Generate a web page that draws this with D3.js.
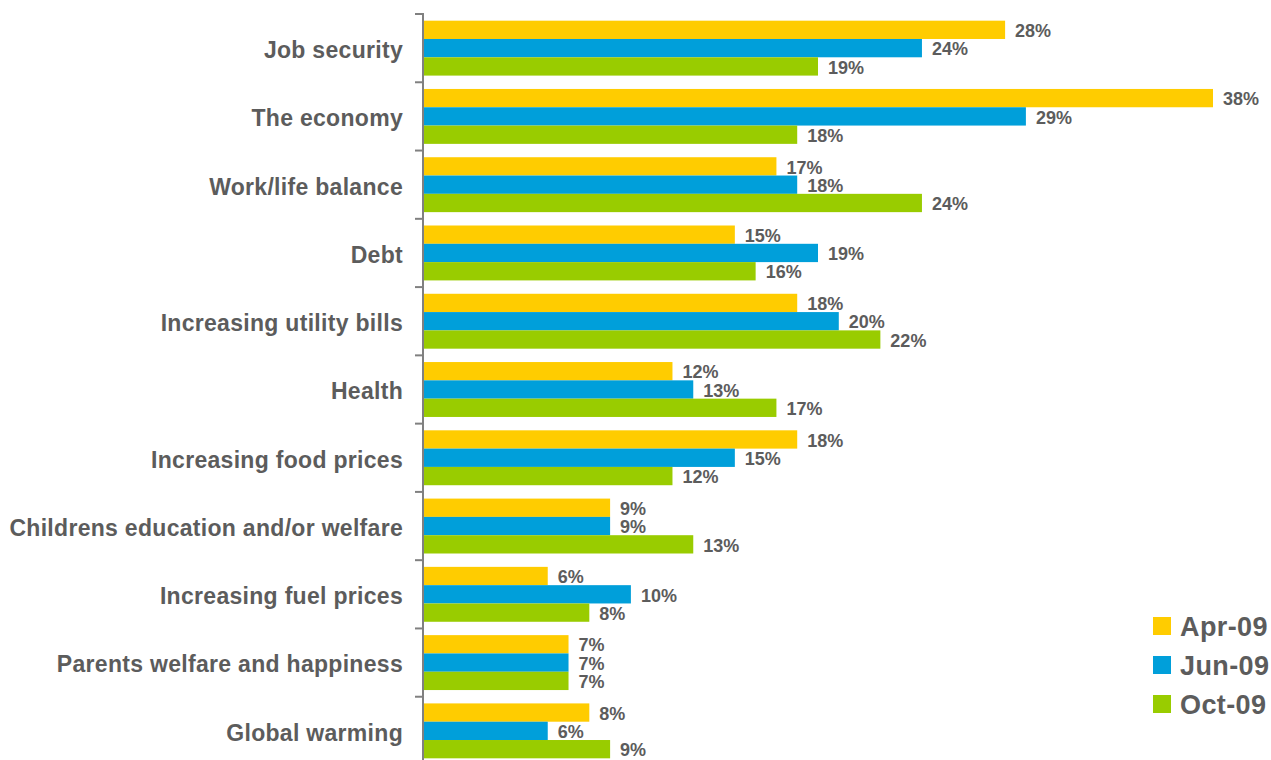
<!DOCTYPE html>
<html>
<head>
<meta charset="utf-8">
<script src="https://cdn.jsdelivr.net/npm/d3@7"></script>
<style>
  body { margin: 0; background: #fff; }
  svg { display: block; font-family: "Liberation Sans", Arial, sans-serif; font-weight: bold; }
</style>
</head>
<body>
<svg id="chart" width="1271" height="760"></svg>
<script>
var categories = ["Job security", "The economy", "Work/life balance", "Debt", "Increasing utility bills",
    "Health", "Increasing food prices", "Childrens education and/or welfare", "Increasing fuel prices",
    "Parents welfare and happiness", "Global warming"];
var seriesNames = ["Apr-09", "Jun-09", "Oct-09"];
var apr09 = [28, 38, 17, 15, 18, 12, 18, 9, 6, 7, 8];
var jun09 = [24, 29, 18, 19, 20, 13, 15, 9, 10, 7, 6];
var oct09 = [19, 18, 24, 16, 22, 17, 12, 13, 8, 7, 9];
var colors = ["#ffcc00", "#009fda", "#99cc00"];

var values = [apr09, jun09, oct09];
var rows = categories.map(function (c, i) {
    return { name: c, vals: seriesNames.map(function (s, j) { return { series: s, v: values[j][i] }; }) };
});

var chart = d3.select("#chart");
var axisX = 423;

var x = d3.scaleLinear().domain([0, 38]).range([axisX, 1213]);
var y = d3.scaleBand().domain(categories).range([14, 765]);
var ySub = d3.scaleBand().domain(seriesNames).range([0, y.bandwidth()]).paddingOuter(0.365);
var color = d3.scaleOrdinal().domain(seriesNames).range(colors);

var groups = chart.selectAll("g.cat")
    .data(rows)
    .enter()
    .append("g")
    .attr("class", "cat")
    .attr("transform", function (d) { return "translate(0," + y(d.name) + ")"; });

groups.selectAll("rect")
    .data(function (d) { return d.vals; })
    .enter()
    .append("rect")
    .attr("x", x(0))
    .attr("y", function (d) { return ySub(d.series); })
    .attr("width", function (d) { return x(d.v) - x(0); })
    .attr("height", ySub.bandwidth())
    .style("fill", function (d) { return color(d.series); });

groups.selectAll("text.val")
    .data(function (d) { return d.vals; })
    .enter()
    .append("text")
    .attr("class", "val")
    .attr("x", function (d) { return x(d.v) + 10; })
    .attr("y", function (d) { return ySub(d.series) + ySub.bandwidth() / 2; })
    .attr("dy", "0.4em")
    .style("font-size", "18px")
    .style("fill", "#5c5c5c")
    .text(function (d) { return d.v + "%"; });

groups.append("text")
    .attr("x", axisX - 20)
    .attr("y", y.bandwidth() / 2)
    .attr("dy", "0.43em")
    .attr("text-anchor", "end")
    .style("font-size", "23px")
    .style("letter-spacing", "0.3px")
    .style("fill", "#5c5c5c")
    .text(function (d) { return d.name; });

// axis line with ticks at band edges
chart.append("line")
    .attr("x1", axisX).attr("x2", axisX)
    .attr("y1", 13).attr("y2", 760)
    .style("stroke", "#808080").style("stroke-width", 2);

chart.selectAll("line.tick")
    .data(categories)
    .enter()
    .append("line")
    .attr("class", "tick")
    .attr("x1", axisX - 8).attr("x2", axisX)
    .attr("y1", function (d) { return y(d); })
    .attr("y2", function (d) { return y(d); })
    .style("stroke", "#808080").style("stroke-width", 2);

// legend
var legend = chart.selectAll("g.legend")
    .data(seriesNames)
    .enter()
    .append("g")
    .attr("class", "legend")
    .attr("transform", function (d, i) { return "translate(1153," + (617 + i * 39) + ")"; });

legend.append("rect")
    .attr("width", 18).attr("height", 18)
    .style("fill", function (d) { return color(d); });

legend.append("text")
    .attr("x", 27)
    .attr("y", 9)
    .attr("dy", "0.36em")
    .style("font-size", "27px")
    .style("letter-spacing", "0.4px")
    .style("fill", "#5c5c5c")
    .text(function (d) { return d; });
</script>
</body>
</html>
